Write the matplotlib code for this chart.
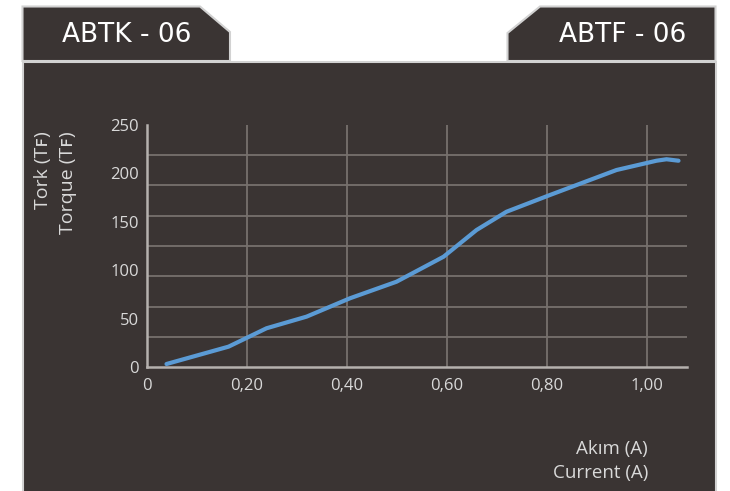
import matplotlib
matplotlib.use("Agg")
import matplotlib.pyplot as plt
from matplotlib.patches import Polygon, Rectangle
import numpy as np

# okunan degerler (akim A / tork)
akim = [0.039, 0.163, 0.239, 0.319, 0.406, 0.499, 0.593, 0.659, 0.719, 0.806, 0.939, 1.019, 1.039, 1.063]
tork = [3.1, 21.0, 40.0, 52.0, 71.0, 88.1, 113.9, 141.5, 160.4, 177.7, 203.5, 213.1, 214.6, 213.1]
x_ticks = [0, 0.2, 0.4, 0.6, 0.8, 1.0]
x_labels = ["0", "0,20", "0,40", "0,60", "0,80", "1,00"]
y_ticks = [0, 50, 100, 150, 200, 250]
y_labels = ["0", "50", "100", "150", "200", "250"]

panel = "#3a3433"
kenar = "#d2d2d2"
yazi = "#d9d9d9"
fam = ["Open Sans", "DejaVu Sans"]

fig = plt.figure(figsize=(7.3, 4.91), dpi=100)
fig.patch.set_facecolor("white")

# arka plan: panel ve sekmeler (piksel koordinatlari)
bg = fig.add_axes([0, 0, 1, 1])
bg.set_xlim(0, 730)
bg.set_ylim(491, 0)
bg.axis("off")
bg.add_patch(Rectangle((22.5, 62), 693, 440, facecolor=panel, edgecolor=kenar, lw=1.5))
bg.add_patch(Polygon([(22.5, 61), (22.5, 6.5), (200, 6.5), (230, 32), (230, 61)],
                     closed=True, facecolor=panel, edgecolor=kenar, lw=1.5))
bg.add_patch(Polygon([(507.5, 61), (507.5, 33), (540, 6.5), (715.5, 6.5), (715.5, 61)],
                     closed=True, facecolor=panel, edgecolor=kenar, lw=1.5))
bg.text(126.5, 34.5, "ABTK - 06", color="white", fontsize=19, family="DejaVu Sans",
        ha="center", va="center")
bg.text(622.5, 34.5, "ABTF - 06", color="white", fontsize=19, family="DejaVu Sans",
        ha="center", va="center")

bg.text(43, 131, "Tork (Tꜰ)", rotation=90, color=yazi, fontsize=14, family=fam,
        ha="center", va="top")
bg.text(68, 131, "Torque (Tꜰ)", rotation=90, color=yazi, fontsize=14, family=fam,
        ha="center", va="top")
bg.text(648, 449, "Akım (A)", color=yazi, fontsize=13.5, family=fam, ha="right", va="center")
bg.text(648, 473, "Current (A)", color=yazi, fontsize=13.5, family=fam, ha="right", va="center")

# grafik
ax = fig.add_axes([147 / 730, 1 - 367 / 491, 540 / 730, 242 / 491])
ax.set_facecolor("none")
ax.plot(akim, tork, color="#5b9bd5", lw=3, solid_capstyle="round", solid_joinstyle="round",
        zorder=3)
ax.set_xlim(0, 1.08)
ax.set_ylim(0, 250)
ax.set_xticks(x_ticks)
ax.set_xticklabels(x_labels)
ax.set_yticks(y_ticks)
ax.set_yticklabels(y_labels)
ax.set_yticks(np.arange(0, 251, 31.25), minor=True)
ax.grid(True, axis="x", which="major", color="#76706d", lw=1.3)
ax.grid(True, axis="y", which="minor", color="#76706d", lw=1.3)
ax.tick_params(which="both", length=0, colors=yazi, labelsize=12)
ax.tick_params(axis="x", pad=8)
ax.tick_params(axis="y", pad=6)
for lab in ax.get_xticklabels() + ax.get_yticklabels():
    lab.set_family(fam)
for s in ["top", "right"]:
    ax.spines[s].set_visible(False)
for s in ["left", "bottom"]:
    ax.spines[s].set_color("#b5b1ae")
    ax.spines[s].set_linewidth(1.8)

plt.savefig("out.png", dpi=100)
